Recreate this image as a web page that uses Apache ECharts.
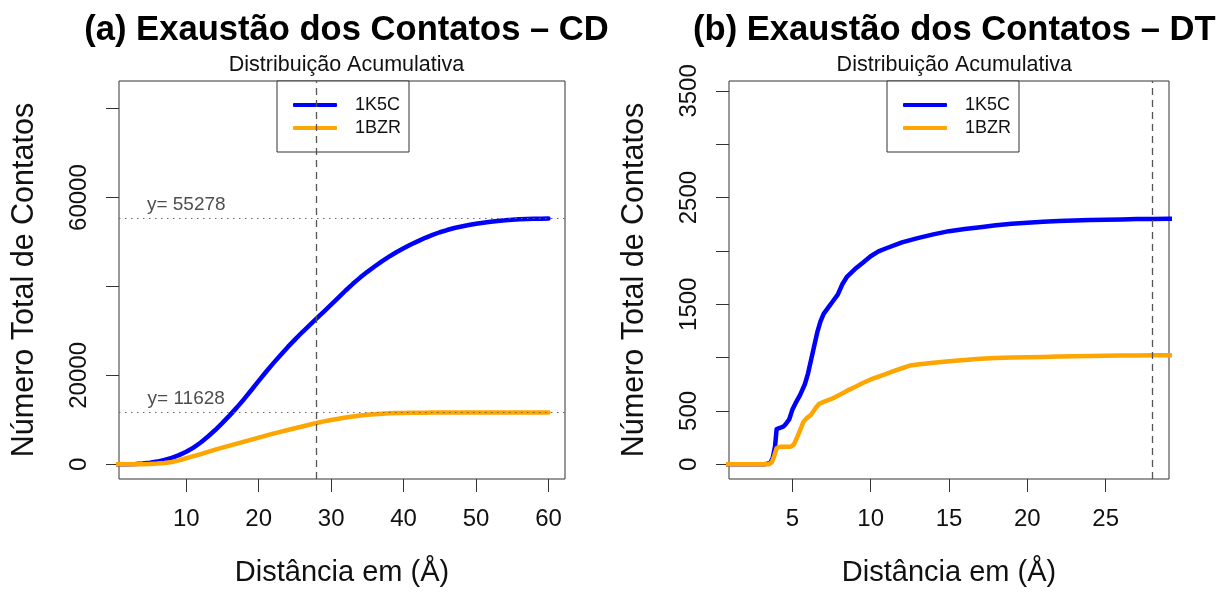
<!DOCTYPE html>
<html>
<head>
<meta charset="utf-8">
<script src="https://cdn.jsdelivr.net/npm/echarts@6/dist/echarts.min.js"></script>
<style>
  html, body { margin: 0; padding: 0; background: #fff; }
  #chart { width: 1231px; height: 592px; }
</style>
</head>
<body>
<div id="chart"></div>
<script>
// Panel (a): cumulative contacts, CD criterion
const xA = [0, 1, 2, 3, 4, 5, 6, 7, 8, 9, 10, 11, 12, 13, 14, 15, 16, 17, 18, 19, 20,
            21, 22, 23, 24, 25, 26, 27, 28, 29, 30, 31, 32, 33, 34, 35, 36, 37, 38, 39, 40,
            41, 42, 43, 44, 45, 46, 47, 48, 49, 50, 51, 52, 53, 54, 55, 56, 57, 58, 59, 60];
const blueA = [0, 0, 0, 40, 150, 340, 600, 980, 1450, 2050, 2800, 3750, 4900, 6250, 7700,
               9300, 11000, 12800, 14700, 16700, 18750, 20750, 22700, 24550, 26350, 28050,
               29700, 31250, 32800, 34350, 35900, 37500, 39100, 40600, 42000, 43300, 44500,
               45650, 46700, 47700, 48600, 49450, 50200, 50950, 51600, 52200, 52700, 53150,
               53500, 53830, 54100, 54350, 54550, 54740, 54900, 55030, 55120, 55190, 55240,
               55265, 55278];
const orangeA = [0, 0, 0, 5, 20, 70, 150, 290, 500, 880, 1350, 1820, 2300, 2800, 3300, 3750,
                 4200, 4650, 5100, 5550, 6000, 6450, 6900, 7300, 7700, 8100, 8500, 8900, 9300,
                 9650, 9950, 10240, 10500, 10740, 10950, 11120, 11250, 11360, 11450, 11510,
                 11550, 11580, 11600, 11612, 11620, 11625, 11628, 11628, 11628, 11628, 11628,
                 11628, 11628, 11628, 11628, 11628, 11628, 11628, 11628, 11628, 11628];

// Panel (b): cumulative contacts, DT criterion
const xBlueB = [0, 3.2, 3.4, 3.6, 3.75, 3.9, 4.0, 4.2, 4.45, 4.6, 4.8, 5.0, 5.2, 5.5, 5.8, 6.0,
                6.2, 6.4, 6.6, 6.8, 7.0, 7.3, 7.6, 7.9, 8.2, 8.5, 9.0, 9.5, 10, 10.5, 11, 12,
                13, 14, 15, 16, 17, 18, 19, 20, 21, 22, 23, 24, 25, 26, 27, 28, 29, 30];
const blueB = [0, 0, 5, 12, 60, 170, 330, 340, 355, 380, 420, 510, 570, 650, 750, 850, 980,
               1110, 1240, 1340, 1410, 1470, 1530, 1590, 1690, 1760, 1830, 1890, 1950, 1995,
               2025, 2080, 2120, 2155, 2185, 2205, 2222, 2240, 2255, 2265, 2273, 2280, 2285,
               2289, 2292, 2295, 2298, 2300, 2302, 2304];
const xOrangeB = [0, 3.5, 3.7, 3.85, 4.0, 4.2, 4.6, 4.9, 5.1, 5.3, 5.5, 5.7, 5.9, 6.2, 6.5, 6.7,
                  7.0, 7.5, 8.0, 8.5, 9.0, 9.5, 10, 10.5, 11, 11.5, 12, 12.5, 13, 14, 15, 16,
                  17, 18, 19, 20, 21, 22, 23, 24, 25, 26, 27, 28, 29, 30];
const orangeB = [0, 0, 20, 80, 150, 165, 165, 165, 185, 250, 320, 395, 430, 465, 530, 565, 585,
                 612, 650, 690, 725, 762, 795, 822, 848, 875, 900, 925, 935, 952, 965, 978,
                 988, 995, 1000, 1003, 1006, 1009, 1012, 1015, 1017, 1019, 1020, 1021, 1022, 1023];

const seriesNames = ['1K5C', '1BZR'];
const colors = ['#0000ff', '#ffa500'];
const cutoff = 28;

// axis ranges (limits padded 4% on each side)
const xRangeA = [0.72, 62.28];
const yRangeA = [-3316.7, 86233.7];
const xRangeB = [0.96, 29.04];
const yRangeB = [-138.2, 3592.7];

// tick positions and labelled ticks
const xTicksA = [10, 20, 30, 40, 50, 60];
const yTicksA = [0, 20000, 40000, 60000, 80000];
const yLabelsA = [0, 20000, 60000];
const xTicksB = [5, 10, 15, 20, 25];
const yTicksB = [0, 500, 1000, 1500, 2000, 2500, 3000, 3500];
const yLabelsB = [0, 500, 1500, 2500, 3500];

const titles = ['(a) Exaustão dos Contatos – CD', '(b) Exaustão dos Contatos – DT'];
const subtitle = 'Distribuição Acumulativa';
const xName = 'Distância em (Å)';
const yName = 'Número Total de Contatos';

const FONT = "'Liberation Sans', Arial, Helvetica, sans-serif";
const INK = '#111';

const zip = (xs, ys) => xs.map((x, i) => [x, ys[i]]);
const maxBlueA = Math.max(...blueA);
const maxOrangeA = Math.max(...orangeA);
const plain = v => String(v);

function xAxisOf(gridIndex, range, ticks) {
  return {
    type: 'value', gridIndex, min: range[0], max: range[1],
    name: xName, nameLocation: 'middle', nameGap: 79,
    nameTextStyle: { fontSize: 29, color: INK, fontFamily: FONT },
    axisLine: { show: false, onZero: false },
    splitLine: { show: false },
    axisTick: { show: true, length: 13, customValues: ticks, lineStyle: { color: '#333', width: 1 } },
    axisLabel: { customValues: ticks, formatter: plain, fontSize: 24, color: INK, fontFamily: FONT, margin: 28 }
  };
}
function yAxisOf(gridIndex, range, ticks, labels) {
  return {
    type: 'value', gridIndex, min: range[0], max: range[1],
    name: yName, nameLocation: 'middle', nameGap: 79,
    nameTextStyle: { fontSize: 30.5, color: INK, fontFamily: FONT },
    axisLine: { show: false, onZero: false },
    splitLine: { show: false },
    axisTick: { show: true, length: 13, customValues: ticks, lineStyle: { color: '#333', width: 1 } },
    axisLabel: { customValues: labels, formatter: plain, rotate: 90, fontSize: 24, color: INK, fontFamily: FONT, margin: 28 }
  };
}
function legendOf(left) {
  return {
    data: seriesNames, orient: 'vertical', left, top: 81,
    padding: [14, 8, 14, 16], itemGap: 3, itemWidth: 44, itemHeight: 4, icon: 'roundRect',
    backgroundColor: '#fff', borderColor: '#333', borderWidth: 1, borderRadius: 0,
    selectedMode: false,
    textStyle: { fontSize: 18, color: INK, fontFamily: FONT, lineHeight: 20, padding: [0, 0, 0, 13] }
  };
}
const dashed = { color: '#555', width: 1.3, type: [7, 5] };
const dotted = { color: '#666', width: 1.2, type: [1.5, 4.5] };

function lineSeries(name, idx, data, markLines) {
  const c = colors[seriesNames.indexOf(name)];
  const s = {
    name, type: 'line', xAxisIndex: idx, yAxisIndex: idx, data,
    showSymbol: false, symbol: 'none', smooth: false, clip: true,
    lineStyle: { color: c, width: 4.5, cap: 'round', join: 'round' },
    itemStyle: { color: c },
    animation: false
  };
  if (markLines) {
    s.markLine = { silent: true, symbol: 'none', label: { show: false }, animation: false, data: markLines };
  }
  return s;
}

const option = {
  backgroundColor: '#fff',
  animation: false,
  textStyle: { fontFamily: FONT },
  title: [
    { text: titles[0], left: 341.5, top: 8, textAlign: 'center',
      textStyle: { fontSize: 34.6, fontWeight: 'bold', color: '#000', fontFamily: FONT } },
    { text: subtitle, left: 341.5, top: 49, textAlign: 'center',
      textStyle: { fontSize: 21.5, fontWeight: 'normal', color: INK, fontFamily: FONT } },
    { text: titles[1], left: 949.3, top: 8, textAlign: 'center',
      textStyle: { fontSize: 34.6, fontWeight: 'bold', color: '#000', fontFamily: FONT } },
    { text: subtitle, left: 949.3, top: 49, textAlign: 'center',
      textStyle: { fontSize: 21.5, fontWeight: 'normal', color: INK, fontFamily: FONT } }
  ],
  legend: [legendOf(277), legendOf(887)],
  grid: [
    { left: 119, top: 81, width: 446, height: 402, show: true, borderColor: '#333', borderWidth: 1, backgroundColor: 'transparent' },
    { left: 729, top: 81, width: 440, height: 401, show: true, borderColor: '#333', borderWidth: 1, backgroundColor: 'transparent' }
  ],
  xAxis: [xAxisOf(0, xRangeA, xTicksA), xAxisOf(1, xRangeB, xTicksB)],
  yAxis: [yAxisOf(0, yRangeA, yTicksA, yLabelsA), yAxisOf(1, yRangeB, yTicksB, yLabelsB)],
  series: [
    lineSeries('1K5C', 0, zip(xA, blueA), [
      { xAxis: cutoff, lineStyle: dashed },
      { yAxis: maxBlueA, lineStyle: dotted }
    ]),
    lineSeries('1BZR', 0, zip(xA, orangeA), [
      { yAxis: maxOrangeA, lineStyle: dotted }
    ]),
    {
      type: 'scatter', xAxisIndex: 0, yAxisIndex: 0, silent: true, symbolSize: 0,
      data: [[10, maxBlueA], [10, maxOrangeA]],
      label: { show: true, position: 'top', distance: 4, fontSize: 19, color: '#222', fontFamily: FONT,
               formatter: p => 'y= ' + p.value[1] },
      z: 5, animation: false
    },
    lineSeries('1K5C', 1, zip(xBlueB, blueB), [
      { xAxis: cutoff, lineStyle: dashed }
    ]),
    lineSeries('1BZR', 1, zip(xOrangeB, orangeB), null)
  ]
};

const chart = echarts.init(document.getElementById('chart'), null, { renderer: 'canvas' });
chart.setOption(option);
</script>
</body>
</html>
